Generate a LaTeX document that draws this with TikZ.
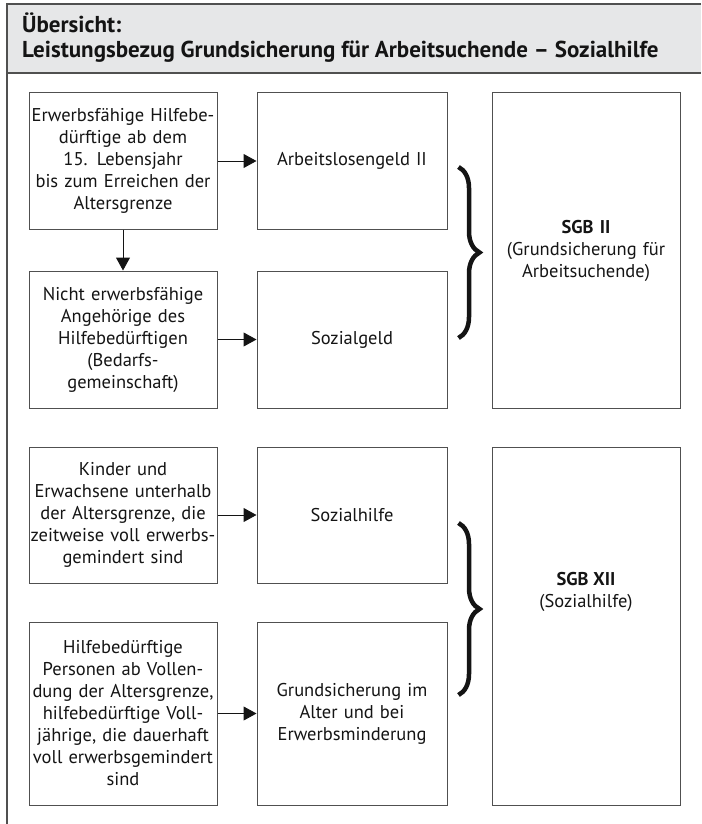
\documentclass[tikz,border=0pt]{standalone}
\usepackage{fontspec}
\setmainfont{PT Sans}
\usetikzlibrary{arrows.meta,decorations.pathreplacing,calc}
\definecolor{band}{HTML}{E6E7E8}
\definecolor{frame}{HTML}{505050}
\definecolor{ink}{HTML}{141414}
\begin{document}
\begin{tikzpicture}[x=1pt,y=-1pt,
  box/.style={draw=frame, line width=1pt, align=center, inner sep=0pt, text=ink,
    text width=187pt, minimum width=188pt, font=\fontsize{18.5}{22}\selectfont},
  arr/.style={draw=ink, line width=1pt, -{Triangle[length=13pt,width=14pt]}},
  bracedec/.style={decorate, decoration={brace, amplitude=21pt}, line width=4.5pt, draw=ink}]
\useasboundingbox (0,0) rectangle (701,824);
\fill[band] (7,4) rectangle (701,73);
\draw[frame, line width=1.5pt] (701,4) -- (7,4) -- (7,824);
\draw[frame, line width=1.5pt] (7,73) -- (701,73);
\node[anchor=west, inner sep=0pt, font=\bfseries\fontsize{23}{25}\selectfont, text=ink, align=left] (title) at (22,38)
  {Übersicht:\\Leistungsbezug Grundsicherung für Arbeitsuchende – Sozialhilfe};

\node[box, minimum height=136pt] (A1) at (123,161) {Erwerbsfähige Hilfebe-\\dürftige ab dem\\15. Lebensjahr\\bis zum Erreichen der\\Altersgrenze};
\node[box, minimum height=137pt] (A2) at (123,339.5) {Nicht erwerbsfähige\\Angehörige des\\Hilfebedürftigen\\(Bedarfs-\\gemeinschaft)};
\node[box, minimum height=136pt, minimum width=190pt] (B1) at (352,161) {Arbeitslosengeld II};
\node[box, minimum height=137pt, minimum width=190pt] (B2) at (352,339.5) {Sozialgeld};
\node[box, minimum height=315pt] (C1) at (586,250.5) {\textbf{SGB II}\\(Grundsicherung für\\Arbeitsuchende)};

\node[box, minimum height=136pt] (A3) at (123,515) {Kinder und\\Erwachsene unterhalb\\der Altersgrenze, die\\zeitweise voll erwerbs-\\gemindert sind};
\node[box, minimum height=183pt] (A4) at (123,713.5) {Hilfebedürftige\\Personen ab Vollen-\\dung der Altersgrenze,\\hilfebedürftige Voll-\\jährige, die dauerhaft\\voll erwerbsgemindert\\sind};
\node[box, minimum height=136pt, minimum width=190pt] (B3) at (352,515) {Sozialhilfe};
\node[box, minimum height=183pt, minimum width=190pt] (B4) at (352,713.5) {Grundsicherung im\\Alter und bei\\Erwerbsminderung};
\node[box, minimum height=358pt] (C2) at (586,626) {};
\node[align=center, inner sep=0pt, text=ink, font=\fontsize{18.5}{22}\selectfont] (C2t) at (586,592) {\textbf{SGB XII}\\(Sozialhilfe)};

\draw[arr] (A1.east) -- (B1.west);
\draw[arr] (A1.south) -- (A2.north);
\draw[arr] (A2.east) -- (B2.west);
\draw[arr] (A3.east) -- (B3.west);
\draw[arr] (A4.east) -- (B4.west);

\draw[bracedec] ($(B1.east)+(11,6)$) -- ($(B2.east)+(11,-1.5)$);
\draw[bracedec] ($(B3.east)+(11,8)$) -- ($(B4.east)+(11,-18.5)$);
\end{tikzpicture}
\end{document}
